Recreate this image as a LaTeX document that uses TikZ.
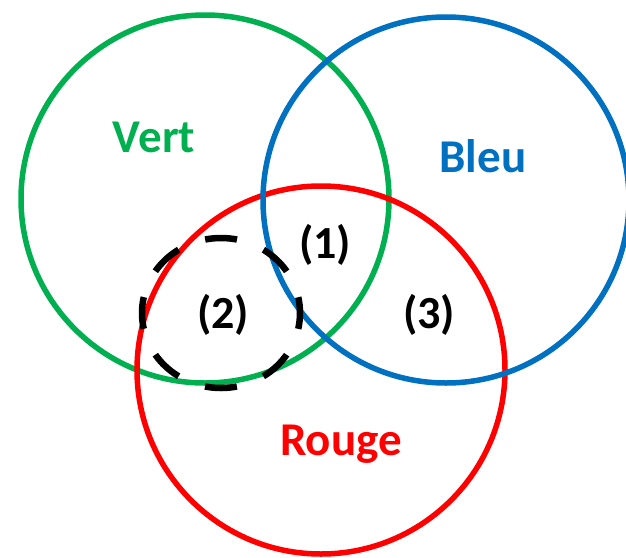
\documentclass[tikz,border=0pt]{standalone}
\usepackage{fontspec}
\setmainfont{Carlito}
\definecolor{cgreen}{RGB}{0,176,80}
\definecolor{cblue}{RGB}{0,112,192}
\definecolor{cred}{RGB}{255,0,0}
\begin{document}
\begin{tikzpicture}[x=1pt,y=-1pt,
  ring/.style={circle, draw, line width=5.5pt, inner sep=0pt},
  namelabel/.style={font=\fontsize{47}{47}\selectfont\bfseries, inner sep=0pt},
  numlabel/.style={font=\fontsize{46}{46}\selectfont\bfseries, inner sep=0pt},
  dashline/.style={line width=6.5pt, dash pattern=on 32pt off 28.5pt, dash phase=16pt}]
\useasboundingbox (0,0) rectangle (626,557);
\clip (0,0) rectangle (626,557);
\fill[white] (0,0) rectangle (626,557);
\node[ring, draw=cgreen, minimum size=368pt] (vert) at (205,199) {};
\node[ring, draw=cred, minimum size=368pt] (rouge) at (321,370) {};
\node[ring, draw=cblue, minimum size=366pt] (bleu) at (446,200) {};
\draw[dashline] (221,313) ellipse [x radius=79, y radius=75];
\node[namelabel, text=cgreen] (tvert) at (154,137) {Vert};
\node[namelabel, text=cblue] (tbleu) at (483,156) {Bleu};
\node[namelabel, text=cred] (trouge) at (341,444) {Rouge};
\node[numlabel] (n1) at (325,245) {(1)};
\node[numlabel] (n2) at (223,315) {(2)};
\node[numlabel] (n3) at (429,315) {(3)};
\end{tikzpicture}
\end{document}
